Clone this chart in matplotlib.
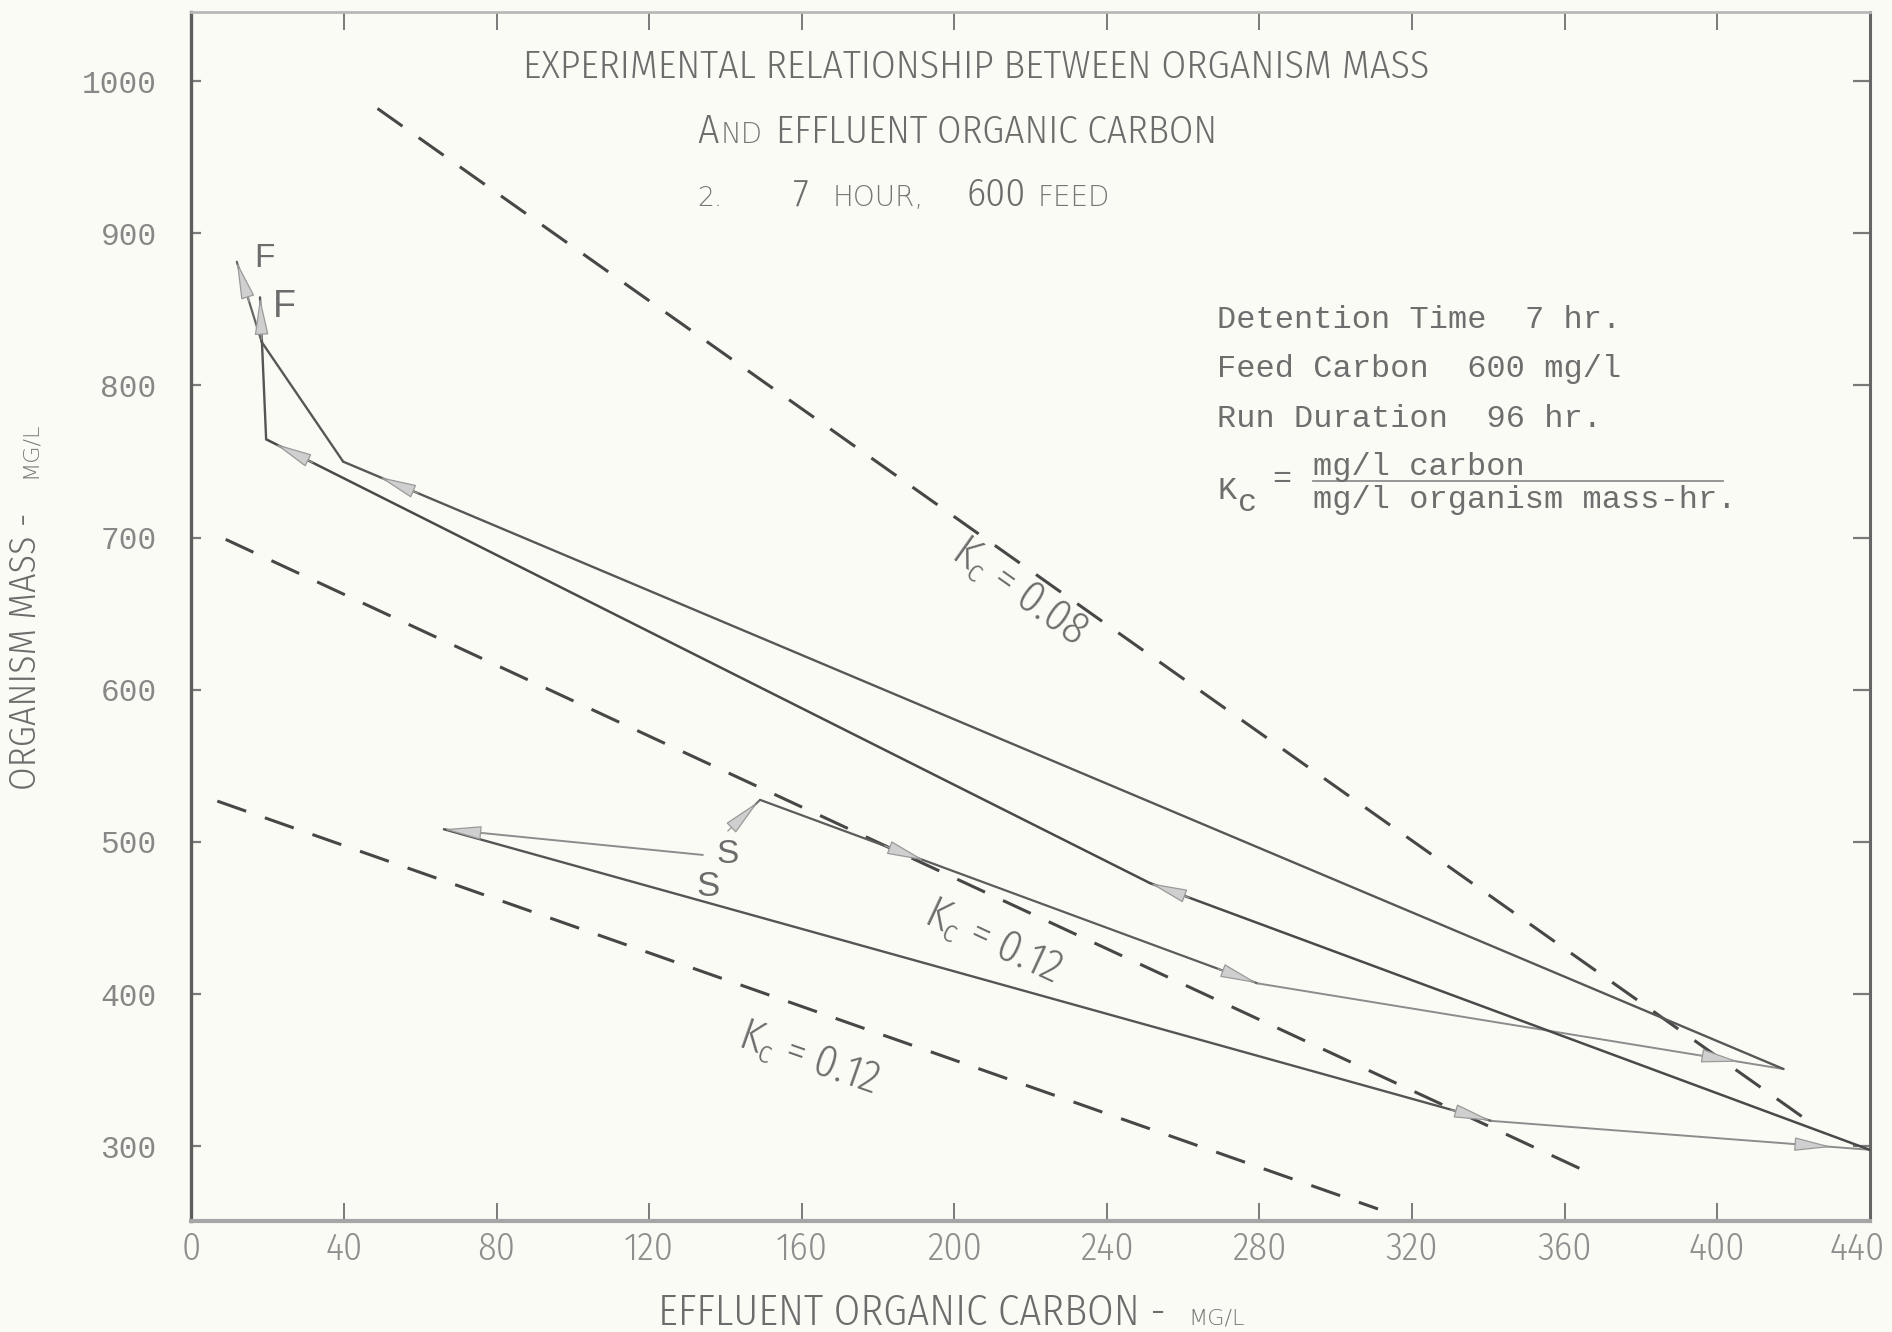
import os
import matplotlib
matplotlib.use('Agg')
import matplotlib.pyplot as plt
from matplotlib import font_manager
from matplotlib.font_manager import FontProperties
from matplotlib.transforms import IdentityTransform, ScaledTranslation
from matplotlib.lines import Line2D
import numpy as np

# ── Data ────────────────────────────────────────────────────────────────
# run 1: upper S -> highest effluent carbon -> upper F
run1_carbon = [142.2, 149.1, 279.5, 417.4, 39.8, 18.4, 11.9]
run1_mass = [510.9, 527.6, 407.0, 350.7, 749.9, 828.7, 881.3]
# run 2: lower S -> highest effluent carbon -> lower F
run2_carbon = [134.1, 66.2, 340.8, 440.0, 251.3, 19.6, 18.0]
run2_mass = [491.4, 508.3, 316.6, 297.6, 472.9, 764.6, 857.9]

# constant Kc reference lines (end points)
kc_values = ['0.08', '0.12', '0.12']
kc_carbon = [[48.8, 423.4], [9.0, 368.4], [6.8, 311.1]]
kc_mass = [[982.0, 317.4], [698.8, 280.2], [526.8, 258.7]]

x_ticks = [0, 40, 80, 120, 160, 200, 240, 280, 320, 360, 400, 440]
y_ticks = [300, 400, 500, 600, 700, 800, 900, 1000]

info_lines = ['Detention Time  7 hr.', 'Feed Carbon  600 mg/l', 'Run Duration  96 hr.']


# ── Fonts: look for a condensed sans, else DejaVu ──────────────────────
def pick_condensed():
    best, best_score = None, None
    for f in set(font_manager.findSystemFonts()):
        b = os.path.splitext(os.path.basename(f))[0].lower()
        if 'condensed' not in b and 'narrow' not in b:
            continue
        if any(k in b for k in ['bold', 'italic', 'oblique', 'black', 'semibold',
                                'medium', 'mono', 'serif', 'thin', 'heavy', '[']):
            continue
        if 'ultracondensed' in b:
            score = 4
        elif 'extracondensed' in b:
            score = 2
        elif 'semicondensed' in b:
            score = 1
        else:
            score = 0
        if 'extralight' in b:
            score += 1
        elif 'light' not in b:
            score += 0.5
        if best_score is None or score < best_score:
            best, best_score = f, score
    return best


NARROW_FILE = pick_condensed()


def nfp(size):
    if NARROW_FILE:
        return FontProperties(fname=NARROW_FILE, size=size)
    return FontProperties(family='DejaVu Sans', size=size)


def scfp(size):
    # wide face for the plotter's small capitals
    return FontProperties(family='DejaVu Sans', weight='light', size=size)


MONO = 'Liberation Mono'
SANS = 'Liberation Sans'
PAPER = '#fbfbf6'
INK = '#6c6c6c'
SC_INK = '#767676'

fig = plt.figure(figsize=(18.92, 13.32), dpi=100, facecolor=PAPER)
K = 1892 / 1568          # reference-view px -> output px
R = fig.canvas.get_renderer()

# calibrate the condensed font against the title width
_t = fig.text(0, 0, 'EXPERIMENTAL RELATIONSHIP BETWEEN ORGANISM MASS', fontproperties=nfp(26))
F = min(752 * K / _t.get_window_extent(R).width, 1.2)
_t.remove()


def put(xr, yr, s, size=None, fp=None, color=INK, rot=0, ha='left', span=None):
    # left/baseline anchored text at reference-view pixel coords
    if fp is None:
        fp = nfp(size * F)
    t = fig.text(xr * K, (1104 - yr) * K, s, transform=IdentityTransform(),
                 fontproperties=fp, color=color, rotation=rot,
                 rotation_mode='anchor', ha=ha, va='baseline')
    if span:
        bb = t.get_window_extent(R)
        w = bb.height if rot else bb.width
        scale = min(max(span * K / w, 0.8), 1.3)
        t.set_fontproperties(nfp(size * F * scale))
    return t


ax = fig.add_axes([158.6 / 1568, 1 - 1012 / 1104, 1390.9 / 1568, 1002 / 1104])
ax.set_facecolor(PAPER)
ax.set_xlim(0, 440)
ax.set_ylim(250.8, 1045.4)

# ── Frame and ticks ─────────────────────────────────────────────────────
spine_style = {'left': (2.4, '#5e5e5e'), 'right': (2.2, '#666666'),
               'bottom': (3.0, '#a6a6a6'), 'top': (2.0, '#b8b8b8')}
for side, (lw, c) in spine_style.items():
    ax.spines[side].set_linewidth(lw)
    ax.spines[side].set_color(c)

ax.set_xticks(x_ticks)
ax.set_yticks(y_ticks)
ax.set_xticklabels([str(v) for v in x_ticks], fontproperties=nfp(25 * F))
ax.set_yticklabels([str(v) for v in y_ticks],
                   fontproperties=FontProperties(family=MONO, size=22.5))
ax.tick_params(axis='x', direction='in', top=True, length=13, width=1.4,
               color='#7a7a7a', pad=7, labelcolor='#8e8e8e')
ax.tick_params(axis='y', direction='in', right=True, length=7, width=1.6,
               color='#7a7a7a', pad=25, labelcolor='#878787')
for t in ax.yaxis.get_major_ticks():
    t.tick2line.set_markersize(12)
# last x label sits a little inside the frame, as on the original sheet
last = ax.xaxis.get_major_ticks()[-1].label1
last.set_transform(last.get_transform() + ScaledTranslation(-9 / 72, 0, fig.dpi_scale_trans))

# ── Kc dashed lines ─────────────────────────────────────────────────────
kc_label_pos = [(217.1, 664.7), (210.1, 434.8), (161.9, 357.9)]
for xs, ys, val, (lx, ly) in zip(kc_carbon, kc_mass, kc_values, kc_label_pos):
    ax.plot(xs, ys, color='#474747', lw=2.2, dashes=(10, 6.5),
            dash_capstyle='butt', zorder=2)
    p0, p1 = ax.transData.transform([(xs[0], ys[0]), (xs[1], ys[1])])
    ang = np.degrees(np.arctan2(p1[1] - p0[1], p1[0] - p0[0]))
    ax.text(lx, ly, r'$\mathregular{K_c}$ = ' + val, rotation=ang,
            rotation_mode='anchor', ha='center', va='center',
            fontproperties=nfp(29 * F), color=INK)

# ── Run trajectories ────────────────────────────────────────────────────
seg_colors1 = ['#707070', '#5c5c5c', '#8c8c8c', '#575757', '#575757', '#666666']
seg_colors2 = ['#8c8c8c', '#555555', '#8c8c8c', '#4a4a4a', '#4a4a4a', '#555555']
seg_widths1 = [1.5, 1.6, 1.4, 1.7, 1.7, 1.6]
seg_widths2 = [1.4, 1.7, 1.4, 1.8, 1.8, 1.7]

for xs, ys, cols, lws in [(run1_carbon, run1_mass, seg_colors1, seg_widths1),
                          (run2_carbon, run2_mass, seg_colors2, seg_widths2)]:
    for i in range(len(xs) - 1):
        ax.plot(xs[i:i + 2], ys[i:i + 2], color=cols[i], lw=lws[i],
                solid_capstyle='round', zorder=3)


def arrow_on(xs, ys, seg, frac, back=42):
    p0 = np.array([xs[seg], ys[seg]])
    p1 = np.array([xs[seg + 1], ys[seg + 1]])
    tip = p0 + frac * (p1 - p0)
    d0, d1 = ax.transData.transform([p0, p1])
    u = (d1 - d0) / np.hypot(*(d1 - d0))
    tail = ax.transData.inverted().transform(ax.transData.transform(tip) - u * back)
    ax.annotate('', xy=tip, xytext=tail,
                arrowprops=dict(arrowstyle='-|>,head_length=1.2,head_width=0.22',
                                mutation_scale=20, fc='#cfcfcf', ec='#9a9a9a',
                                lw=0.9, shrinkA=0, shrinkB=0), zorder=4)


arrows1 = [(0, 0.92), (1, 0.33), (1, 1.0), (2, 0.915), (3, 0.975), (5, 1.0)]
arrows2 = [(0, 1.0), (1, 1.0), (2, 0.9), (3, 1.0), (4, 0.99), (5, 1.0)]
for seg, f in arrows1:
    arrow_on(run1_carbon, run1_mass, seg, f)
for seg, f in arrows2:
    arrow_on(run2_carbon, run2_mass, seg, f)

# start / finish letters
ax.text(16.6, 878.1, 'F', size=24, family=SANS, color=INK, va='baseline')
ax.text(21.3, 844.8, 'F', size=27, family=SANS, color=INK, va='baseline')
ax.text(137.7, 485.9, 'S', size=24, family=SANS, color=INK, va='baseline')
ax.text(132.4, 464.1, 'S', size=25, family=SANS, color=INK, va='baseline')

# ── Titles ──────────────────────────────────────────────────────────────
put(809, 65, 'EXPERIMENTAL RELATIONSHIP BETWEEN ORGANISM MASS', 26, ha='center')
put(578, 119, 'A', 27)
put(597, 119, 'ND', fp=scfp(20), color=SC_INK)
put(643, 119, 'EFFLUENT ORGANIC CARBON', 26, span=364)
put(578, 171, '2.', fp=scfp(19), color=SC_INK)
put(657, 171, '7', 26)
put(690, 171, 'HOUR,', fp=scfp(20), color=SC_INK)
put(801, 171, '600', 26)
put(860, 171, 'FEED', fp=scfp(20), color=SC_INK)

# axis titles
put(545, 1098, 'EFFLUENT ORGANIC CARBON -', 25, span=420)
put(985, 1098, 'MG/L', fp=scfp(16), color=SC_INK)
put(30, 655, 'ORGANISM MASS -', 26, rot=90, span=230)
put(30, 396, 'MG/L', fp=scfp(16), color=SC_INK, rot=90)

# ── Run conditions (typewriter) ─────────────────────────────────────────
TYPE = '#6e6e6e'
tfp = FontProperties(family=MONO, size=23)
for i, s in enumerate(info_lines):
    put(1009, 272 + 40.8 * i, s, fp=tfp, color=TYPE)
put(1009, 414, 'K', fp=tfp, color=TYPE)
put(1026, 424, 'c', fp=tfp, color=TYPE)
put(1054, 404, '=', fp=tfp, color=TYPE)
put(1088, 393.5, 'mg/l carbon', fp=tfp, color=TYPE)
put(1088, 421, 'mg/l organism mass-hr.', fp=tfp, color=TYPE)
fig.add_artist(Line2D([1088 * K, 1428 * K], [(1104 - 399) * K] * 2,
                      transform=IdentityTransform(), color='#8e8e8e', lw=1.3))

fig.savefig('out.png', dpi=100, facecolor=PAPER)
